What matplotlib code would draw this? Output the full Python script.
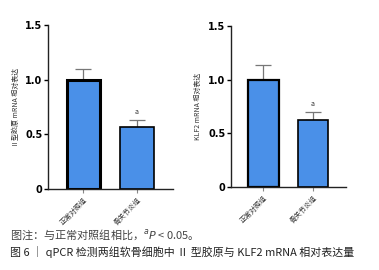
import matplotlib.pyplot as plt

plt.rcParams['font.family'] = ['Noto Sans CJK SC', 'DejaVu Sans']

groups = ["正常对照组", "骨关节炎组"]
col2_mean = [1.00, 0.57]
col2_err = [0.10, 0.06]
klf2_mean = [1.00, 0.62]
klf2_err = [0.14, 0.08]
ylabels = ["Ⅱ型胶原 mRNA 相对表达", "KLF2 mRNA 相对表达"]

fig = plt.figure(figsize=(3.79, 2.70), dpi=100)
ax1 = fig.add_axes([0.127, 0.300, 0.329, 0.607])
ax2 = fig.add_axes([0.609, 0.307, 0.304, 0.597])

blue = '#4a90e8'
for ax, mean, err, yl, lw in [(ax1, col2_mean, col2_err, ylabels[0], 2.2),
                              (ax2, klf2_mean, klf2_err, ylabels[1], 1.6)]:
    x = [0, 1]
    ax.bar(x, mean, width=0.62, color=blue, edgecolor='black',
           linewidth=[lw, 1.2], zorder=2)
    ax.errorbar(x, mean, yerr=[[0, 0], err], fmt='none', ecolor='#777777',
                elinewidth=0.9, capsize=6, capthick=0.9, zorder=1)
    ax.text(1, mean[1] + err[1] + 0.04, 'a', ha='center', va='bottom',
            fontsize=5, color='#333333')
    ax.set_xlim(-0.66, 1.67)
    ax.set_ylim(0, 1.5)
    ax.set_yticks([0, 0.5, 1.0, 1.5])
    ax.set_yticklabels(['0', '0.5', '1.0', '1.5'], fontsize=7,
                       fontweight='bold', family='DejaVu Sans')
    ax.set_xticks(x)
    ax.set_xticklabels(groups, rotation=45, ha='right', rotation_mode='anchor',
                       fontsize=5, color='#333333')
    ax.set_ylabel(yl, fontsize=5, color='#333333', labelpad=4)
    for s in ['top', 'right']:
        ax.spines[s].set_visible(False)
    ax.spines['left'].set_linewidth(1.0)
    ax.spines['bottom'].set_linewidth(1.0)
    ax.spines['left'].set_color('#222222')
    ax.spines['bottom'].set_color('#222222')
    ax.tick_params(axis='y', length=3, width=1.0, pad=1)
    ax.tick_params(axis='x', length=3, width=0.8, color='#888888', pad=2)

fig.text(0.026, 0.130, "图注：与正常对照组相比，$^{a}$$\\it{P}$ < 0.05。",
         fontsize=8, color='#444444', va='center')
fig.text(0.026, 0.066, "图 6 ｜ qPCR 检测两组软骨细胞中 Ⅱ 型胶原与 KLF2 mRNA 相对表达量",
         fontsize=7.9, color='#222222', va='center', fontweight='medium')

fig.savefig('out.png', dpi=100)
